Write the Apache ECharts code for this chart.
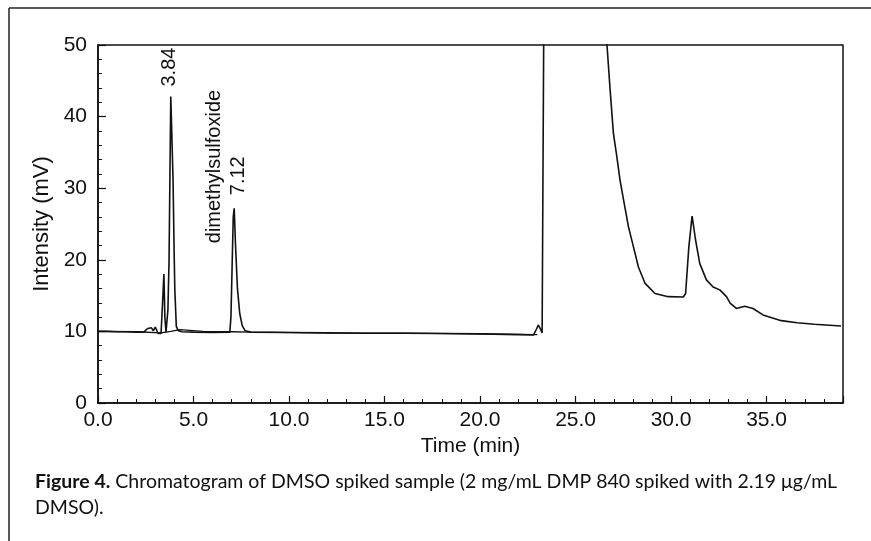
<!DOCTYPE html>
<html>
<head>
<meta charset="utf-8">
<script src="https://cdn.jsdelivr.net/npm/echarts@6/dist/echarts.min.js"></script>
<style>
  html, body { margin: 0; padding: 0; background: #fff; }
  #chart { width: 871px; height: 541px; }
</style>
</head>
<body>
<div id="chart"></div>
<script>
// sample trace (time in min, intensity in mV); values above 50 run off the top
const sampleTime = [0, 0.5, 1.0, 1.5, 2.0, 2.4, 2.6, 2.7, 2.8, 2.9, 3.0, 3.05, 3.15, 3.3, 3.38, 3.45, 3.5, 3.56,
  3.6, 3.66, 3.72, 3.77, 3.81, 3.86, 3.93, 3.98, 4.02, 4.1, 4.2, 4.4, 5.0, 6.0, 6.9, 6.96, 7.02, 7.08, 7.13, 7.2,
  7.3, 7.42, 7.55, 7.7, 8.0, 10, 12, 14, 16, 18, 20, 22, 22.8, 22.95, 23.05, 23.15, 23.25, 23.35, 23.4, 26.5,
  26.64, 26.81, 26.98, 27.16, 27.33, 27.51, 27.77, 28.03, 28.29, 28.64, 29.16, 29.85, 30.64, 30.76, 30.93, 31.1,
  31.28, 31.5, 31.85, 32.2, 32.55, 32.9, 33.1, 33.42, 33.85, 34.29, 34.81, 35.77, 36.6, 37.5, 38.9];
const sampleValue = [10.0, 10.0, 9.95, 9.95, 9.9, 9.9, 10.4, 10.2, 10.5, 10.1, 10.6, 10.3, 9.7, 9.7, 14, 18, 12, 9.9,
  10.0, 13, 20, 33, 42.8, 38, 31, 22, 16, 10.7, 10.1, 9.95, 9.9, 9.85, 9.9, 12, 19, 26, 27.2, 22,
  16, 12.5, 10.8, 10.1, 9.9, 9.85, 9.8, 9.75, 9.75, 9.7, 9.65, 9.55, 9.5, 10.3, 10.9, 10.4, 9.8, 60, 60, 60,
  50.2, 43.7, 37.7, 34.4, 31.1, 28.4, 24.6, 21.8, 19.0, 16.7, 15.3, 14.85, 14.8, 15.3, 21.8, 26.1,
  22.8, 19.5, 17.2, 16.2, 15.8, 14.85, 13.9, 13.2, 13.5, 13.2, 12.3, 11.5, 11.2, 11.0, 10.75];

// blank baseline overlaid under the early peaks
const blankTime = [0, 2.0, 3.3, 3.8, 4.3, 4.8, 5.5, 7.0, 8.0, 12, 16, 20, 23.0];
const blankValue = [10.0, 9.95, 9.8, 10.0, 10.25, 10.15, 10.0, 9.95, 9.9, 9.8, 9.75, 9.65, 9.55];

const xTicks = { min: 0, max: 39, interval: 5 };
const yTicks = { min: 0, max: 50, interval: 10 };

const peakLabels = [
  { text: '3.84', t: 3.84, v: 42.8, dx: -2, dy: -10 },
  { text: 'dimethylsulfoxide', t: 7.12, v: 27.2, dx: -20, dy: 35 },
  { text: '7.12', t: 7.12, v: 27.2, dx: 4, dy: -13 }
];

const chart = echarts.init(document.getElementById('chart'));
const axisFont = 'Liberation Sans, Arial, sans-serif';

const option = {
  animation: false,
  backgroundColor: '#fff',
  grid: {
    left: 98, right: 28, top: 45, bottom: 138,
    show: true, borderColor: '#111', borderWidth: 1.5, backgroundColor: 'transparent'
  },
  xAxis: {
    type: 'value',
    min: xTicks.min, max: xTicks.max, interval: xTicks.interval,
    name: 'Time (min)', nameLocation: 'middle', nameGap: 24,
    nameTextStyle: { color: '#111', fontSize: 21, fontFamily: axisFont },
    axisLine: { lineStyle: { color: '#111', width: 1.5 } },
    axisTick: { inside: true, length: 7, lineStyle: { color: '#111', width: 1.2 } },
    minorTick: { show: true, splitNumber: 5, length: 4, lineStyle: { color: '#111', width: 1 } },
    axisLabel: { color: '#111', fontSize: 21, fontFamily: axisFont, margin: 7,
      showMaxLabel: false, formatter: v => v.toFixed(1) },
    splitLine: { show: false }
  },
  yAxis: {
    type: 'value',
    min: yTicks.min, max: yTicks.max, interval: yTicks.interval,
    name: 'Intensity (mV)', nameLocation: 'middle', nameGap: 44, nameRotate: 90,
    nameTextStyle: { color: '#111', fontSize: 22, fontFamily: axisFont },
    axisLine: { show: true, lineStyle: { color: '#111', width: 1.5 } },
    axisTick: { show: true, inside: true, length: 8, lineStyle: { color: '#111', width: 1.2 } },
    minorTick: { show: true, splitNumber: 5, length: 4, lineStyle: { color: '#111', width: 1 } },
    axisLabel: { color: '#111', fontSize: 21, fontFamily: axisFont, margin: 11 },
    splitLine: { show: false }
  },
  series: [
    {
      name: 'blank', type: 'line', showSymbol: false, clip: true,
      lineStyle: { color: '#111', width: 1.3 },
      data: blankTime.map((t, i) => [t, blankValue[i]])
    },
    {
      name: 'sample', type: 'line', showSymbol: false, clip: true,
      lineStyle: { color: '#111', width: 1.6 },
      data: sampleTime.map((t, i) => [t, sampleValue[i]])
    }
  ]
};
chart.setOption(option);

// frame, peak labels and caption
const elements = [
  { type: 'line', shape: { x1: 9, y1: 8, x2: 871, y2: 8 }, style: { stroke: '#222', lineWidth: 1.5 } },
  { type: 'line', shape: { x1: 9, y1: 8, x2: 9, y2: 541 }, style: { stroke: '#222', lineWidth: 1.5 } }
];
peakLabels.forEach(p => {
  const pt = chart.convertToPixel({ gridIndex: 0 }, [p.t, p.v]);
  elements.push({
    type: 'text', x: pt[0] + p.dx, y: pt[1] + p.dy, rotation: Math.PI / 2,
    style: { text: p.text, fill: '#111', fontSize: 20, fontFamily: axisFont,
      align: 'left', verticalAlign: 'middle' }
  });
});
elements.push({
  type: 'text', left: 35, top: 469,
  style: {
    text: '{b|Figure 4.} Chromatogram of DMSO spiked sample (2 mg/mL DMP 840 spiked with 2.19 μg/mL\nDMSO).',
    fill: '#111', fontSize: 19.5, fontFamily: 'Lato, sans-serif', lineHeight: 26,
    rich: { b: { fontWeight: 'bold', fontSize: 19.5, fontFamily: 'Lato, sans-serif' } }
  }
});
chart.setOption({ graphic: { elements } });
</script>
</body>
</html>
